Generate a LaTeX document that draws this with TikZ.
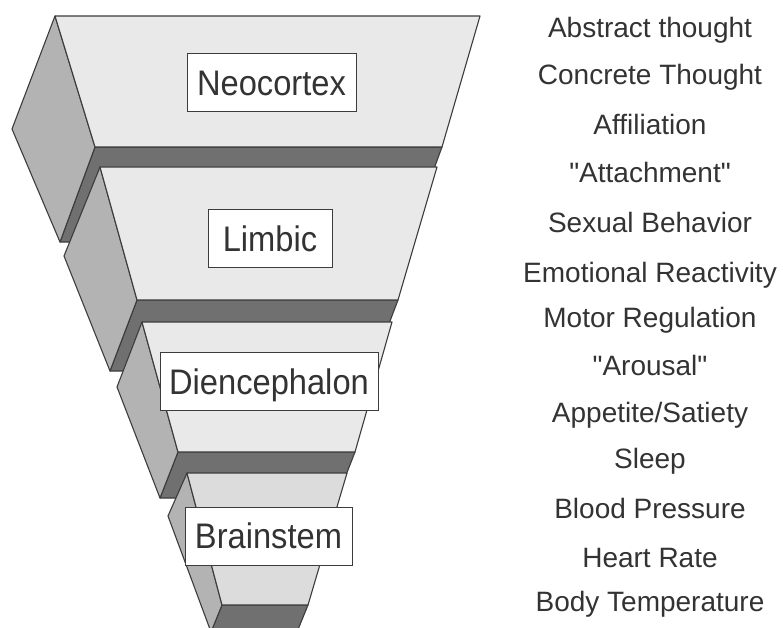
\documentclass[tikz,border=0pt]{standalone}
\usepackage{fontspec}
\setmainfont{Liberation Sans}[Ligatures=TeXOff]
\definecolor{frontc}{HTML}{E9E9E9}
\definecolor{frontd}{HTML}{DCDCDC}
\definecolor{sidec}{HTML}{B3B3B3}
\definecolor{botc}{HTML}{707070}
\definecolor{edgec}{HTML}{3C3C3C}
\definecolor{txtc}{HTML}{333333}
\newcommand\rfont{\fontsize{28}{32}\selectfont}
\newcommand\lblfont{\fontsize{35.5}{40}\selectfont}
\newcommand\labeltxt[1]{\scalebox{0.92}[1]{#1}}
\tikzset{
  face/.style={draw=edgec, line width=1.1pt, line join=round},
  frontface/.style={face, fill=frontc},
  sideface/.style={face, fill=sidec},
  bottomface/.style={face, fill=botc},
  labelbox/.style={draw=edgec, fill=white, line width=1pt, inner sep=0pt,
    minimum height=58pt, text height=25.4pt, text depth=0pt, font=\lblfont, text=txtc},
  rtext/.style={anchor=base, font=\rfont, text=txtc, inner sep=0pt}
}
\begin{document}
\begin{tikzpicture}[x=1pt, y=-1pt]
\useasboundingbox (0,0) rectangle (783,628);
\fill[white] (0,0) rectangle (783,628);
\clip (0,0) rectangle (783,628);

% Neocortex block
\draw[bottomface] (95,147) -- (442,147) -- (407,242) -- (60,242) -- cycle;
\draw[sideface] (55,16) -- (12,129) -- (60,242) -- (95,147) -- cycle;
\draw[frontface] (55,16) -- (480,16) -- (442,147) -- (95,147) -- cycle;

% Limbic block
\draw[bottomface] (137,300) -- (398,300) -- (371,371) -- (110,371) -- cycle;
\draw[sideface] (100,167) -- (64,256) -- (110,371) -- (137,300) -- cycle;
\draw[frontface] (100,167) -- (437,167) -- (398,300) -- (137,300) -- cycle;

% Diencephalon block
\draw[bottomface] (178,452) -- (355,452) -- (337,498) -- (160,498) -- cycle;
\draw[sideface] (142,322) -- (117,387) -- (160,498) -- (178,452) -- cycle;
\draw[frontface] (142,322) -- (392,322) -- (355,452) -- (178,452) -- cycle;

% Brainstem block
\draw[bottomface] (222,605) -- (308,605) -- (297,632) -- (211,632) -- cycle;
\draw[sideface] (187,473) -- (168,516) -- (211,632) -- (222,605) -- cycle;
\draw[frontface, fill=frontd] (187,473) -- (347,473) -- (308,605) -- (222,605) -- cycle;

% labels
\node[labelbox, minimum width=169pt] (neo) at (271.5,83) {\labeltxt{Neocortex}};
\node[labelbox, minimum width=124pt] (lim) at (270,238.5) {\labeltxt{Limbic}};
\node[labelbox, minimum width=218pt] (die) at (269,381.5) {\labeltxt{Diencephalon}};
\node[labelbox, minimum width=167pt] (bra) at (268.5,536) {\labeltxt{Brainstem}};

% right column
\node[rtext] (t1) at (650,38) {Abstract thought};
\node[rtext] (t2) at (650,85) {Concrete Thought};
\node[rtext] (t3) at (650,135) {Affiliation};
\node[rtext] (t4) at (650,183) {"Attachment"};
\node[rtext] (t5) at (650,232) {Sexual Behavior};
\node[rtext] (t6) at (650,282) {Emotional Reactivity};
\node[rtext] (t7) at (650,327) {Motor Regulation};
\node[rtext] (t8) at (650,375) {"Arousal"};
\node[rtext] (t9) at (650,422) {Appetite/Satiety};
\node[rtext] (t10) at (650,468) {Sleep};
\node[rtext] (t11) at (650,518) {Blood Pressure};
\node[rtext] (t12) at (650,567) {Heart Rate};
\node[rtext] (t13) at (650,611) {Body Temperature};
\end{tikzpicture}
\end{document}
